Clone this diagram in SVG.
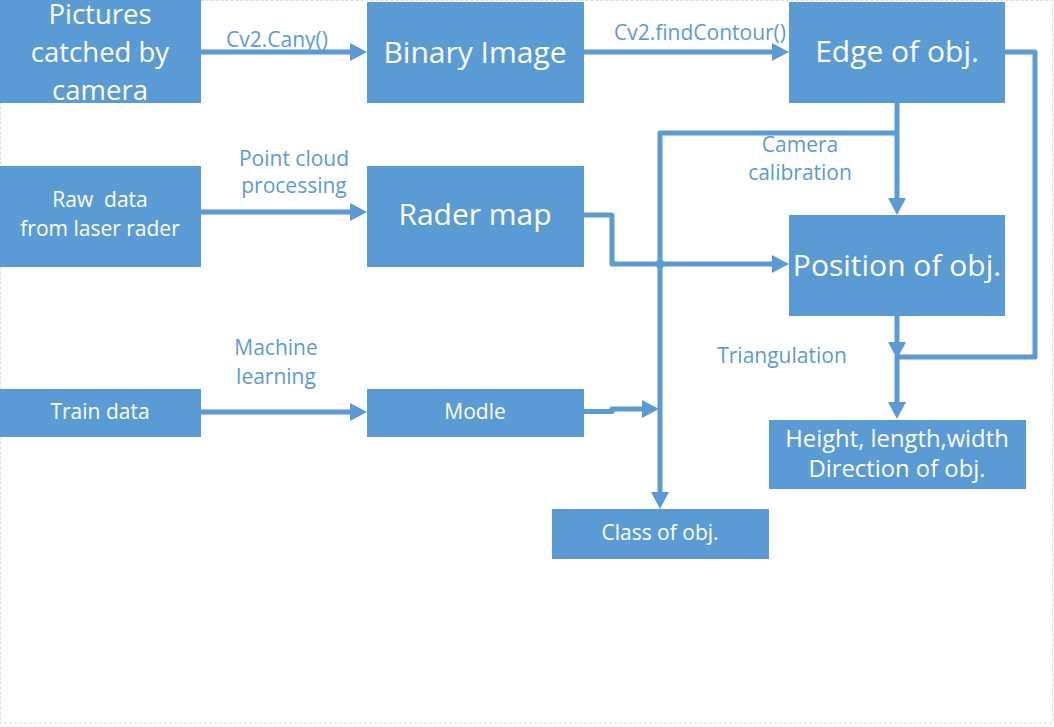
<svg xmlns="http://www.w3.org/2000/svg" width="1054" height="727" viewBox="0 0 1054 727">
<style>
.box{fill:#5b9bd5}
.bt{fill:#fff;font-family:"Open Sans","Noto Sans","Liberation Sans",sans-serif;text-anchor:middle}
.big{font-size:30px}
.pic{font-size:27.5px}
.mid{font-size:23.8px}
.sm{font-size:21px}
.lbl{fill:#5b9bd5;font-family:"Open Sans","Noto Sans","Liberation Sans",sans-serif;font-size:21px;text-anchor:middle}
.ln{fill:none;stroke:#5b9bd5;stroke-width:5;stroke-linejoin:round}
.ah{fill:#5b9bd5}
</style>
<rect x="0.5" y="0.5" width="1052" height="722.5" fill="#fff" stroke="#dcdcdc" stroke-width="1" stroke-dasharray="3,2"/>
<g id="connectors">
  <path class="ln" d="M201,52 H352"/>
  <polygon class="ah" points="367,52 350,43 350,61"/>
  <path class="ln" d="M584,52 H774"/>
  <polygon class="ah" points="789,52 772,43 772,61"/>
  <path class="ln" d="M897,103 V200"/>
  <polygon class="ah" points="897,215 888,198 906,198"/>
  <path class="ln" d="M897,133 H660 V494"/>
  <polygon class="ah" points="660,509 651,492 669,492"/>
  <path class="ln" d="M201,212 H352"/>
  <polygon class="ah" points="367,212 350,203 350,221"/>
  <path class="ln" d="M584,215 H612 V264 H774"/>
  <polygon class="ah" points="789,264 772,255 772,273"/>
  <circle cx="660" cy="264" r="4.5" fill="#5b9bd5"/>
  <path class="ln" d="M1005,52 H1035 V357 H897"/>
  <path class="ln" d="M897,316 V344"/>
  <polygon class="ah" points="897,359 888,342 906,342"/>
  <path class="ln" d="M897,355 V404"/>
  <polygon class="ah" points="897,419 888,402 906,402"/>
  <path class="ln" d="M201,412 H352"/>
  <polygon class="ah" points="367,412 350,403 350,421"/>
  <path class="ln" d="M584,411.5 H612 V409 H644"/>
  <polygon class="ah" points="659,409 642,400 642,418"/>
  <text class="lbl" x="277" y="47">Cv2.Cany()</text>
  <text class="lbl" x="700" y="40">Cv2.findContour()</text>
  <text class="lbl" x="294" y="166">Point cloud</text>
  <text class="lbl" x="294" y="193">processing</text>
  <text class="lbl" x="800" y="152">Camera</text>
  <text class="lbl" x="800" y="180">calibration</text>
  <text class="lbl" x="276" y="355">Machine</text>
  <text class="lbl" x="276" y="384">learning</text>
  <text class="lbl" x="782" y="363">Triangulation</text>
</g>
<g id="n-pictures">
  <rect class="box" x="0" y="0" width="201" height="103"/>
  <text class="bt pic" x="100" y="24">Pictures</text>
  <text class="bt pic" x="100" y="62">catched by</text>
  <text class="bt pic" x="100" y="100">camera</text>
</g>
<g id="n-binary">
  <rect class="box" x="367" y="2" width="217" height="101"/>
  <text class="bt big" x="475" y="63">Binary Image</text>
</g>
<g id="n-edge">
  <rect class="box" x="789" y="2" width="216" height="101"/>
  <text class="bt big" x="897" y="62">Edge of obj.</text>
</g>
<g id="n-raw">
  <rect class="box" x="0" y="166" width="201" height="101"/>
  <text class="bt sm" x="100" y="207" xml:space="preserve">Raw  data</text>
  <text class="bt sm" x="100" y="236">from laser rader</text>
</g>
<g id="n-rader">
  <rect class="box" x="367" y="166" width="217" height="101"/>
  <text class="bt big" x="475" y="225">Rader map</text>
</g>
<g id="n-position">
  <rect class="box" x="789" y="215" width="216" height="101"/>
  <text class="bt big" x="897" y="276">Position of obj.</text>
</g>
<g id="n-train">
  <rect class="box" x="0" y="389" width="201" height="48"/>
  <text class="bt sm" x="100" y="419">Train data</text>
</g>
<g id="n-modle">
  <rect class="box" x="367" y="389" width="217" height="48"/>
  <text class="bt sm" x="475" y="419">Modle</text>
</g>
<g id="n-height">
  <rect class="box" x="769" y="420" width="257" height="69"/>
  <text class="bt mid" x="897" y="447">Height, length,width</text>
  <text class="bt mid" x="897" y="477">Direction of obj.</text>
</g>
<g id="n-class">
  <rect class="box" x="552" y="509" width="217" height="50"/>
  <text class="bt sm" x="660" y="540">Class of obj.</text>
</g>
</svg>
